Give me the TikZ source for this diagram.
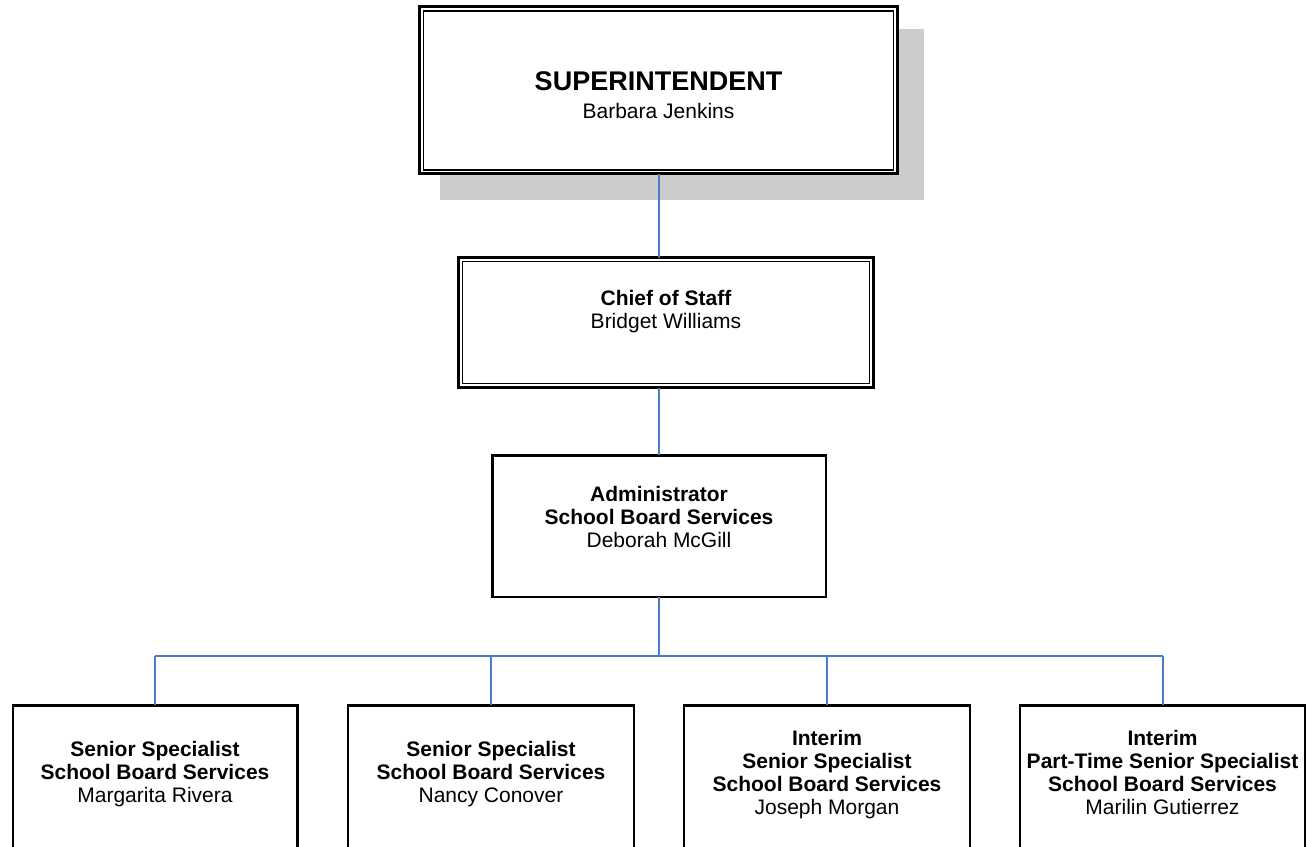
\documentclass[tikz,border=0pt]{standalone}
\usepackage{fontspec}
\setmainfont{Liberation Sans}
\definecolor{conn}{HTML}{4A7EC4}
\definecolor{shadowgray}{HTML}{CCCCCC}
\begin{document}
\begin{tikzpicture}[x=1pt,y=-1pt,
  dblouter/.style={draw=black,line width=3pt,fill=white,outer sep=0pt,inner sep=0pt},
  plainbox/.style={draw=black,line width=2.5pt,fill=white,outer sep=0pt,inner sep=0pt},
  innerline/.style={draw=black,line width=1.5pt},
  boxtext/.style={align=center,inner sep=0pt,font=\fontsize{21}{23}\selectfont},
  toptext/.style={boxtext,anchor=north},
  link/.style={draw=conn,line width=2pt}]
\useasboundingbox (0,0) rectangle (1308,846);
\clip (0,0) rectangle (1308,846);
% shadow
\fill[shadowgray] (440,29) rectangle (924,200);
% superintendent
\node[dblouter,minimum width=478pt,minimum height=167pt] (sup) at (658.5,90.25) {};
\draw[innerline] ([shift={(4,4)}]sup.north west) rectangle ([shift={(-4,-4)}]sup.south east);
\node[boxtext,font=\fontsize{21}{27.7}\selectfont] (suptext) at (658.5,95)
  {{\fontsize{27}{27.7}\selectfont\bfseries SUPERINTENDENT}\\Barbara Jenkins};
% chief of staff
\node[dblouter,minimum width=415pt,minimum height=130pt] (cos) at (666,322.5) {};
\draw[innerline] ([shift={(4,4)}]cos.north west) rectangle ([shift={(-4,-4)}]cos.south east);
\node[boxtext] (costext) at (666,312) {\textbf{Chief of Staff}\\Bridget Williams};
% administrator
\node[plainbox,minimum width=333.5pt,minimum height=141.5pt] (adm) at (659,526) {};
\node[toptext] (admtext) at (659,486.5) {\textbf{Administrator}\\\textbf{School Board Services}\\Deborah McGill};
% bottom row
\node[plainbox,minimum width=284.5pt,minimum height=200pt] (b1) at (155,805.25) {};
\node[plainbox,minimum width=286pt,minimum height=200pt] (b2) at (491,805.25) {};
\node[plainbox,minimum width=286pt,minimum height=200pt] (b3) at (827,805.25) {};
\node[plainbox,minimum width=285pt,minimum height=200pt] (b4) at (1162.5,805.25) {};
\node[toptext] (b1text) at (155,741.5) {\textbf{Senior Specialist}\\\textbf{School Board Services}\\Margarita Rivera};
\node[toptext] (b2text) at (491,741.5) {\textbf{Senior Specialist}\\\textbf{School Board Services}\\Nancy Conover};
\node[toptext] (b3text) at (827,730.5) {\textbf{Interim}\\\textbf{Senior Specialist}\\\textbf{School Board Services}\\Joseph Morgan};
\node[toptext] (b4text) at (1162.5,730.5) {\textbf{Interim}\\\textbf{Part-Time Senior Specialist}\\\textbf{School Board Services}\\Marilin Gutierrez};
% connectors
\coordinate (bus) at (659,656);
\draw[link] (sup.south -| adm.north) -- (cos.north -| adm.north);
\draw[link] (cos.south -| adm.north) -- (adm.north);
\draw[link] (adm.south) -- (bus);
\draw[link] (bus -| b1.north) -- (bus -| b4.north);
\draw[link] (bus -| b1.north) -- (b1.north);
\draw[link] (bus -| b2.north) -- (b2.north);
\draw[link] (bus -| b3.north) -- (b3.north);
\draw[link] (bus -| b4.north) -- (b4.north);
\end{tikzpicture}
\end{document}
